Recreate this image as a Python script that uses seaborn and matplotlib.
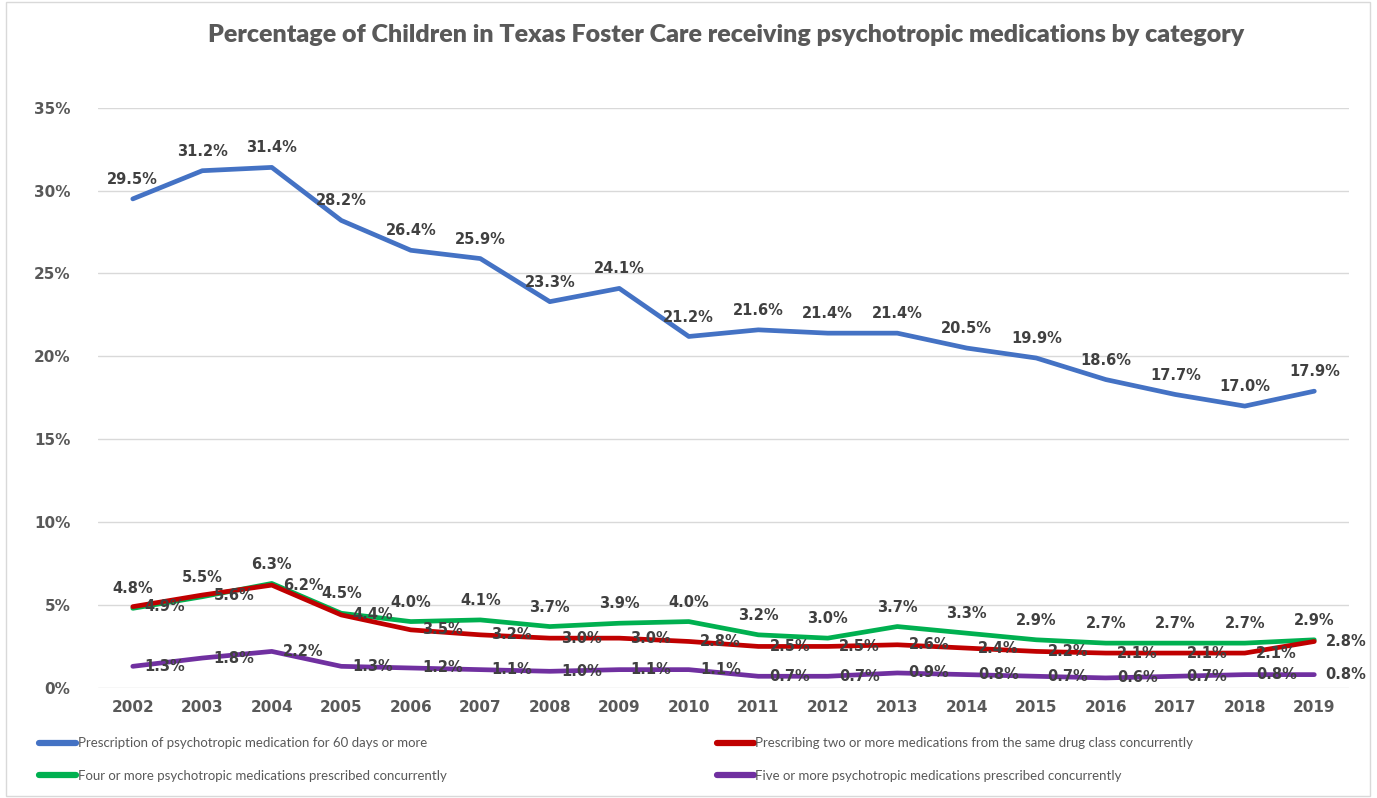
import pandas as pd
import numpy as np
import matplotlib.pyplot as plt
import seaborn as sns
from matplotlib import font_manager
from matplotlib.patches import Rectangle

# data (percent)
years = [2002, 2003, 2004, 2005, 2006, 2007, 2008, 2009, 2010,
         2011, 2012, 2013, 2014, 2015, 2016, 2017, 2018, 2019]
sixty_days = [29.5, 31.2, 31.4, 28.2, 26.4, 25.9, 23.3, 24.1, 21.2,
              21.6, 21.4, 21.4, 20.5, 19.9, 18.6, 17.7, 17.0, 17.9]
same_class = [4.9, 5.6, 6.2, 4.4, 3.5, 3.2, 3.0, 3.0, 2.8,
              2.5, 2.5, 2.6, 2.4, 2.2, 2.1, 2.1, 2.1, 2.8]
four_more = [4.8, 5.5, 6.3, 4.5, 4.0, 4.1, 3.7, 3.9, 4.0,
             3.2, 3.0, 3.7, 3.3, 2.9, 2.7, 2.7, 2.7, 2.9]
five_more = [1.3, 1.8, 2.2, 1.3, 1.2, 1.1, 1.0, 1.1, 1.1,
             0.7, 0.7, 0.9, 0.8, 0.7, 0.6, 0.7, 0.8, 0.8]

names = ['Prescription of psychotropic medication for 60 days or more',
         'Four or more psychotropic medications prescribed concurrently',
         'Prescribing two or more medications from the same drug class concurrently',
         'Five or more psychotropic medications prescribed concurrently']
series = [sixty_days, four_more, same_class, five_more]
colors = ['#4472C4', '#00B050', '#C00000', '#7030A0']
# label placement: (dx, dy) in points, horizontal alignment
label_pos = [(0, 14, 'center'), (0, 14, 'center'), (8, 0, 'left'), (8, 0, 'left')]

# narrow font for title/legend if available
avail = {f.name for f in font_manager.fontManager.ttflist}
narrow = 'Liberation Sans Narrow' if 'Liberation Sans Narrow' in avail else 'Lato'

rows = []
for name, vals in zip(names, series):
    for i, (y, v) in enumerate(zip(years, vals)):
        rows.append({'idx': i, 'year': y, 'value': v, 'series': name})
df = pd.DataFrame(rows)

sns.set_style('white')
fig = plt.figure(figsize=(13.77, 7.98), dpi=100)
ax = fig.add_axes([0.0712, 0.138, 0.9085, 0.727])

sns.lineplot(data=df, x='idx', y='value', hue='series', hue_order=names,
             palette=colors, linewidth=3.4, legend=False, ax=ax, sort=False)

for name, vals, (dx, dy, ha) in zip(names, series, label_pos):
    for i, v in enumerate(vals):
        ax.annotate(f'{v:.1f}%', (i, v), xytext=(dx, dy), textcoords='offset points',
                    ha=ha, va='center', fontsize=10.5, fontweight='bold', color='#404040')

ax.set_xlim(-0.5, len(years) - 0.5)
ax.set_ylim(0, 35)
ax.set_yticks(np.arange(0, 36, 5))
ax.set_yticklabels([f'{t}%' for t in range(0, 36, 5)])
ax.set_xticks(range(len(years)))
ax.set_xticklabels([str(y) for y in years])
ax.tick_params(axis='both', length=0, labelsize=11, labelcolor='#595959')
ax.tick_params(axis='y', pad=20)
ax.tick_params(axis='x', pad=9)
for lab in ax.get_xticklabels() + ax.get_yticklabels():
    lab.set_fontweight('bold')
ax.yaxis.grid(True, color='#D9D9D9', linewidth=1)
for s in ax.spines.values():
    s.set_visible(False)
ax.set_xlabel('')
ax.set_ylabel('')

fig.suptitle('Percentage of Children in Texas Foster Care receiving psychotropic medications by category',
             x=0.527, y=0.97, fontsize=18, fontweight='heavy', color='#595959',
             family=narrow)

handles = [plt.Line2D([], [], color=c, linewidth=4.5, solid_capstyle='round') for c in colors]
leg_kw = dict(loc='upper left', frameon=False, labelcolor='#595959', handlelength=2.8,
              handletextpad=0.1, labelspacing=1.55, prop={'family': narrow, 'size': 9.5})
leg1 = fig.legend(handles[:2], names[:2], bbox_to_anchor=(0.02, 0.091), **leg_kw)
leg2 = fig.legend(handles[2:], [names[2], names[3]], bbox_to_anchor=(0.512, 0.091), **leg_kw)

fig.patches.append(Rectangle((0.004, 0.003), 0.991, 0.994, transform=fig.transFigure,
                             fill=False, edgecolor='#D9D9D9', linewidth=1))

fig.savefig('out.png', dpi=100)
